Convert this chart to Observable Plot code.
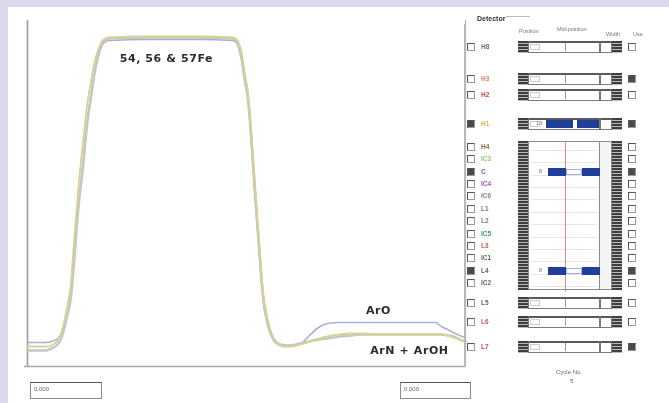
<!DOCTYPE html>
<html><head><meta charset="utf-8">
<script src="https://cdn.jsdelivr.net/npm/d3@7"></script>
<script src="https://cdn.jsdelivr.net/npm/@observablehq/plot@0.6"></script>
<style>
html,body{margin:0;padding:0;width:669px;height:403px;overflow:hidden;background:#dcd9eb;font-family:"Liberation Sans",Arial,sans-serif;}
#root{position:absolute;left:0;top:0;width:669px;height:403px;filter:blur(0.7px);}
#panel{position:absolute;left:8px;top:7px;width:661px;height:396px;background:#fff;}
#chart{position:absolute;left:0;top:0;}
.lbl text{letter-spacing:0.6px;}
.w{position:absolute;box-sizing:border-box;}
.t{position:absolute;font-size:6.5px;white-space:nowrap;line-height:1;}
</style></head>
<body><div id="root"><div id="panel"></div><div id="chart"></div><div id="ui"></div></div>
<script>
// ---- data ----
const time = [0,6,8,10,11.5,13,14.5,15.5,17,18.5,20,21,22.5,24,25,27,40,57,68.5,70,71.5,72.5,73.5,74.5,76,77.5,78.5,80,81.5,83,85,88,91,94,97,100,104,108,111,120,130,136,138,140,142,144,146];
const fe54 = [8,8,9,11,15,24,35,52,80,100,123,133,148,158,162,164,164.5,164.5,164,162,153,143,134,116,83,53,35,22,15,12,10.5,10.5,11.5,12.5,13.5,14,15,15.5,16,16,16,16,16,15.5,15,13.5,12.5];
const fe57 = [10,10,10.5,13,18,28,42,62,90,112,132,141,153,160,163,164.5,165,165,164.5,163,156,146,137,120,88,57,38,24,16,12,10,10,11,12.5,14,15,16,16.5,16.5,16,16,16,16,15.5,14.5,13.5,12];
const fe56 = [12,12,12.5,14,17,25,36,53,81,101,124,134,148,157,161,163,163.5,163.5,163,161,152,142,133,115,82,52,34,21,14.5,11.5,11,10.5,11.5,15.5,19.5,21.5,22,22,22,22,22,22,20,18.5,17,15.5,14.5];
const seriesNames = ["56Fe (ArO)", "54Fe", "57Fe (ArN + ArOH)"];
const seriesColors = ["#a9aed8", "#c6c6c6", "#d8d290"];
const labelTexts = ["54, 56 & 57Fe", "ArO", "ArN + ArOH"];
const labelTime = [46.3, 117, 127.3];
const labelValue = [154, 28, 8];

const detectors = ["H8","H3","H2","H1","H4","IC3","C","IC4","IC6","L1","L2","IC5","L3","IC1","L4","IC2","L5","L6","L7"];
const detectorColors = ["#6a6a6a","#e07a6a","#d9443f","#cdbf3a","#8f6f2f","#9cc47c","#5a68b0","#9a5cc0","#8a8a8a","#777","#777","#3c9a6c","#d45a5a","#666","#666","#666","#666","#cc5a5a","#d44a4a"];
const detectorOn = ["H1","C","L4"];
const detectorUse = ["H3","H1","C","L4","L7"];
const cycleNo = "5";
const fieldLeft = "0.000", fieldRight = "0.000";

// ---- chart ----
const rows = [];
[fe56, fe54, fe57].forEach((vals, k) => vals.forEach((v, i) => rows.push({t: time[i], v, s: seriesNames[k]})));
const labels = labelTexts.map((s, i) => ({s, t: labelTime[i], v: labelValue[i]}));

const chart = Plot.plot({
  width: 470, height: 372,
  marginLeft: 27, marginRight: 5, marginTop: 20, marginBottom: 6,
  x: {domain: [0, 146], axis: null},
  y: {domain: [0, 173], axis: null},
  color: {domain: seriesNames, range: seriesColors},
  style: {background: "transparent", overflow: "visible"},
  marks: [
    Plot.ruleX([0], {stroke: "#9c9c9c", strokeWidth: 1.6}),
    Plot.ruleY([0], {stroke: "#a8a8a8", strokeWidth: 1.6, x1: -1, x2: 146}),
    Plot.ruleX([146], {stroke: "#b0b0b0", strokeWidth: 1.2}),
    Plot.line(rows.filter(d => d.s === seriesNames[0]), {x: "t", y: "v", stroke: "s", strokeWidth: 1.6, curve: "monotone-x"}),
    Plot.line(rows.filter(d => d.s === seriesNames[1]), {x: "t", y: "v", stroke: "s", strokeWidth: 2.6, curve: "monotone-x"}),
    Plot.line(rows.filter(d => d.s === seriesNames[2]), {x: "t", y: "v", stroke: "s", strokeWidth: 1.8, curve: "monotone-x"}),
    Plot.text(labels, {x: "t", y: "v", text: "s", fill: "#2b2b2b", fontSize: 11, fontWeight: "bold", fontFamily: "DejaVu Sans, sans-serif", className: "lbl"})
  ]
});
document.getElementById("chart").appendChild(chart);

// ---- right-hand detector panel (UI chrome) ----
const ui = document.getElementById("ui");
function box(x, y, w, h, css) { const d = document.createElement("div"); d.className = "w"; d.style.cssText = `left:${x}px;top:${y}px;width:${w}px;height:${h}px;` + (css || ""); ui.appendChild(d); return d; }
function txt(x, y, s, css) { const d = document.createElement("div"); d.className = "t"; d.style.cssText = `left:${x}px;top:${y}px;` + (css || ""); d.textContent = s; ui.appendChild(d); return d; }
const stripes = "background:repeating-linear-gradient(#3f3f3f 0 2px,#b8b8b8 2px 3px);";
const g2 = d3.range(12).map(i => 147 + i * 12.36);
const rowY = [47, 79, 95, 124, ...g2, 303, 322, 347];

// header
txt(477, 15, "Detector", "font-weight:bold;color:#333;font-size:7px;");
box(506, 16, 24, 1, "background:#bbb;");
txt(519, 29, "Position", "color:#777;font-size:5.5px;");
txt(557, 27, "Mid-position", "color:#777;font-size:5.5px;");
txt(606, 32, "Width", "color:#777;font-size:5.5px;");
txt(633, 32, "Use", "color:#777;font-size:5.5px;");
box(464, 24, 1.5, 343, "background:#b8b8b8;");

// group 2 frame
box(518, 141, 10, 149, stripes);
box(528, 141, 72, 149, "border:1px solid #8a8a8a;background:#fff;");
box(600, 141, 12, 149, "border:1px solid #8a8a8a;border-left:none;background:#f4f4f4;");
box(612, 141, 10, 149, stripes);
g2.forEach(y => box(531, y + 3, 66, 1, "background:#e6e6e6;"));
box(565, 141, 1, 151, "background:#e58a8a;");

detectors.forEach((name, i) => {
  const c = rowY[i];
  const inG2 = i >= 4 && i < 16;
  const on = detectorOn.includes(name), use = detectorUse.includes(name);
  box(467, c - 4, 8, 8, "border:1px solid #9a9a9a;border-left-color:#555;border-top-color:#555;background:#fff;" + (on ? "background:#4a4a4a;" : ""));
  txt(481, c - 3, name, `color:${detectorColors[i]};font-size:6.5px;font-weight:bold;`);
  if (!inG2) {
    box(518, c - 6, 10, 12, stripes);
    box(528, c - 6, 72, 12, "border:1px solid #7a7a7a;border-top:2px solid #5a5a5a;background:#fff;");
    box(530, c - 3, 10, 6, "border:1px solid #ccc;");
    box(565, c - 4, 1, 8, "background:#999;");
    box(600, c - 6, 12, 12, "border:1px solid #7a7a7a;border-top:2px solid #5a5a5a;background:#fff;");
    box(612, c - 6, 10, 12, stripes);
  }
  box(628, c - 4, 8, 8, "border:1px solid #9a9a9a;border-left-color:#555;border-top-color:#555;background:#fff;" + (use ? "background:#4a4a4a;" : ""));
  if (on) {
    if (name === "H1") {
      box(546, c - 4, 27, 8, "background:#1f3f9a;");
      box(577, c - 4, 22, 8, "background:#1f3f9a;");
      txt(536, c - 3, "13", "color:#777;font-size:5.5px;");
    } else {
      box(548, c - 4, 18, 8, "background:#1f3f9a;");
      box(566, c - 3, 16, 6, "background:#fff;border:1px solid #9fb0dd;");
      box(582, c - 4, 18, 8, "background:#1f3f9a;");
      txt(539, c - 3, "8", "color:#777;font-size:5.5px;");
    }
  }
});

// bottom fields and cycle counter
box(30, 382, 72, 17, "border:1px solid #8a8a8a;border-top-color:#555;background:#fff;");
txt(34, 386, fieldLeft, "color:#666;font-size:6px;");
box(400, 382, 71, 17, "border:1px solid #8a8a8a;border-top-color:#555;background:#fff;");
txt(404, 386, fieldRight, "color:#666;font-size:6px;");
txt(556, 369, "Cycle No.", "color:#666;font-size:6px;");
txt(570, 378, cycleNo, "color:#666;font-size:6px;");
</script>
</body></html>
